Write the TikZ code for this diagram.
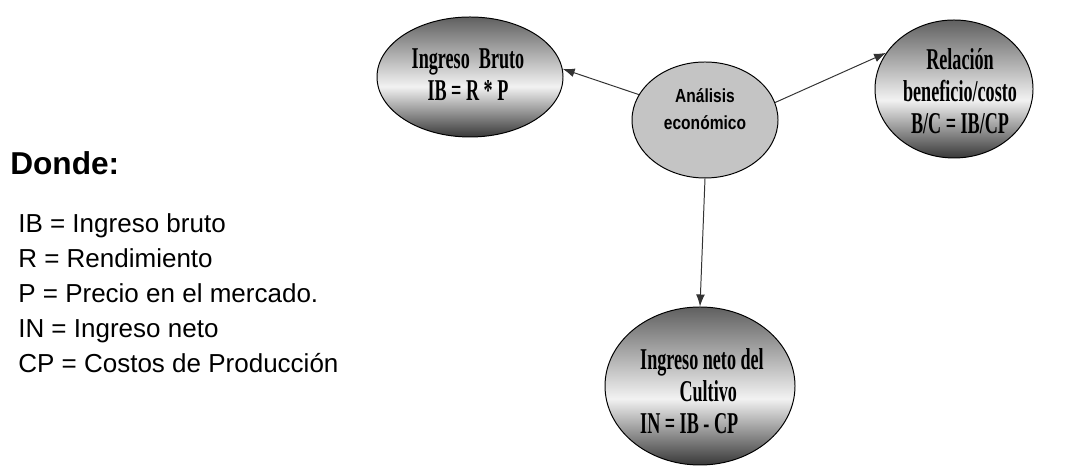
\documentclass[tikz,border=0pt]{standalone}
\usepackage{fontspec}
\setmainfont{Liberation Serif}
\newfontfamily\ovalfont[FakeStretch=0.6]{Liberation Serif Bold}
\newfontfamily\anafont[FakeStretch=0.82]{Liberation Sans Bold}
\newfontfamily\legendfont{Liberation Sans}
\usetikzlibrary{arrows.meta,shapes.geometric}
\definecolor{ovaltop}{HTML}{606060}
\definecolor{ovalmid}{HTML}{F2F2F2}
\definecolor{ovalbot}{HTML}{383838}
\definecolor{anagray}{HTML}{C4C4C4}
\pgfdeclareverticalshading{ovalshade}{100bp}{color(0bp)=(ovalbot); color(25bp)=(ovalbot); color(46bp)=(ovalmid); color(75bp)=(ovaltop); color(100bp)=(ovaltop)}

\begin{document}
\begin{tikzpicture}[
   oval/.style={ellipse, draw=black, line width=0.7pt, shading=ovalshade, inner sep=0pt},
   ovaltext/.style={font=\ovalfont\fontsize{21.5}{22.8}\selectfont, align=center, inner sep=0pt},
   link/.style={draw=black!80, line width=0.7pt, -{Latex[length=3mm,width=2.2mm]}},
   legend/.style={font=\legendfont\fontsize{18.5}{22}\selectfont, inner sep=0pt, anchor=base west}]
   %
   \useasboundingbox (0,0) rectangle (26.875,11.675);
   %
   \node[oval, minimum width=4.65cm, minimum height=3cm] (bruto) at (11.75,9.75) {};
   \node[ovaltext] (bruto-t) at (11.7,9.8) {Ingreso\ \ Bruto\\IB = R * P};
   %
   \node[ellipse, draw=black, line width=0.7pt, fill=anagray,
         minimum width=3.65cm, minimum height=2.9cm] (ana) at (17.625,8.675) {};
   \node[font=\anafont\fontsize{13.5}{19.2}\selectfont, align=center, inner sep=0pt]
        (ana-t) at (17.625,8.95) {Análisis\\económico};
   %
   \node[oval, minimum width=3.95cm, minimum height=3.45cm] (rel) at (23.85,9.45) {};
   \node[ovaltext] (rel-t) at (24.0,9.4) {Relación\\beneficio/costo\\B/C = IB/CP};
   %
   \node[oval, minimum width=4.75cm, minimum height=3.95cm] (neto) at (17.5,2.025) {};
   \node[ovaltext, align=left] (neto-t) at (17.55,1.9)
        {Ingreso neto del\\\hspace*{1.3em}Cultivo\\IN = IB - CP};
   %
   \draw[link] (ana.159) -- (bruto.5);
   \draw[link] (ana.14) -- (rel.152);
   \draw[link] (ana.south) -- (neto.north);
   %
   \node[font=\legendfont\bfseries\fontsize{22.5}{27}\selectfont, inner sep=0pt,
         anchor=base west] (donde) at (0.25,7.3) {Donde:};
   %
   \foreach \txt [count=\i] in {IB = Ingreso bruto, R = Rendimiento,
       P = Precio en el mercado., IN = Ingreso neto, CP = Costos de Producción}
     \node[legend] (def-\i) at (0.45, {5.85-0.875*(\i-1)}) {\txt};
   %
\end{tikzpicture}
\end{document}
